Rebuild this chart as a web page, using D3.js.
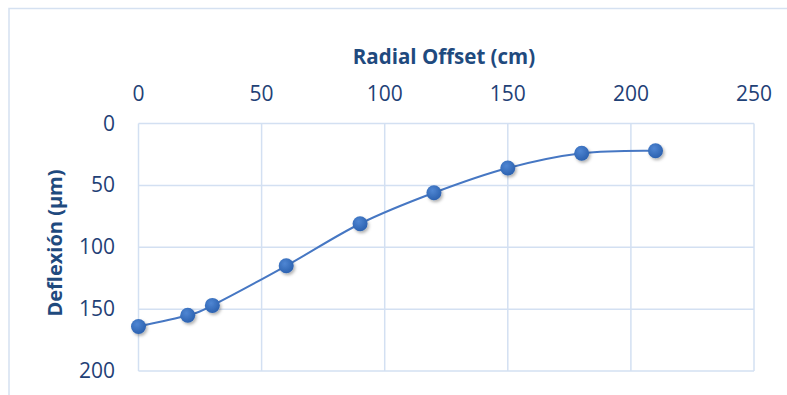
<!DOCTYPE html>
<html>
<head>
<meta charset="utf-8">
<script src="https://cdn.jsdelivr.net/npm/d3@7"></script>
<style>
  body { margin: 0; background: #fff; }
  text { font-family: "Open Sans", "Liberation Sans", sans-serif; }
</style>
</head>
<body>
<svg id="chart" width="787" height="395"></svg>
<script>
// radial offset (cm) and deflection (µm)
var offsets = [0, 20, 30, 60, 90, 120, 150, 180, 210];
var deflex  = [164, 155, 147, 115, 81, 56, 36, 24, 22];
var xTicks = [0, 50, 100, 150, 200, 250];
var yTicks = [0, 50, 100, 150, 200];

window.addEventListener( "load", makeChart );
function makeChart() {
    var svg = d3.select( "#chart" );
    var pts = offsets.map( (d,i) => ({ x: d, y: deflex[i] }) );

    var left = 138.5, right = 754, top = 123.5, bottom = 371;
    var sx = d3.scaleLinear().domain( [0, 250] ).range( [left, right] );
    var sy = d3.scaleLinear().domain( [0, 200] ).range( [top, bottom] );

    // outer chart-area border
    svg.append( "rect" ).attr( "x", 9 ).attr( "y", 8.5 )
        .attr( "width", 790 ).attr( "height", 400 )
        .attr( "fill", "none" ).attr( "stroke", "#D5E1F1" ).attr( "stroke-width", 1.5 );

    var defs = svg.append( "defs" );
    var gr = defs.append( "radialGradient" ).attr( "id", "dot" )
        .attr( "cx", "40%" ).attr( "cy", "35%" ).attr( "r", "65%" );
    gr.append( "stop" ).attr( "offset", "0%" ).attr( "stop-color", "#4F86D3" );
    gr.append( "stop" ).attr( "offset", "100%" ).attr( "stop-color", "#2C62B0" );
    var f = defs.append( "filter" ).attr( "id", "shadow" )
        .attr( "x", "-50%" ).attr( "y", "-50%" ).attr( "width", "200%" ).attr( "height", "200%" );
    f.append( "feDropShadow" ).attr( "dx", 1.5 ).attr( "dy", 2 )
        .attr( "stdDeviation", 1.5 ).attr( "flood-color", "#000" ).attr( "flood-opacity", 0.3 );

    // gridlines
    svg.append( "g" ).selectAll( "line" ).data( xTicks ).enter()
        .append( "line" )
        .attr( "x1", d=>sx(d) ).attr( "x2", d=>sx(d) )
        .attr( "y1", top ).attr( "y2", bottom )
        .attr( "stroke", "#D3E0F2" ).attr( "stroke-width", 1.5 );
    svg.append( "g" ).selectAll( "line" ).data( yTicks ).enter()
        .append( "line" )
        .attr( "x1", left ).attr( "x2", right )
        .attr( "y1", d=>sy(d) ).attr( "y2", d=>sy(d) )
        .attr( "stroke", "#D3E0F2" ).attr( "stroke-width", 1.5 );

    // tick labels
    svg.append( "g" ).selectAll( "text" ).data( xTicks ).enter()
        .append( "text" )
        .attr( "x", d=>sx(d) ).attr( "y", 101 )
        .attr( "text-anchor", "middle" ).attr( "font-size", 21 )
        .attr( "fill", "#1F4176" ).text( d=>d );
    svg.append( "g" ).selectAll( "text" ).data( yTicks ).enter()
        .append( "text" )
        .attr( "x", 115 ).attr( "y", d=>sy(d) + 7 )
        .attr( "text-anchor", "end" ).attr( "font-size", 21 )
        .attr( "fill", "#1F4176" ).text( d=>d );

    // axis titles
    svg.append( "text" ).attr( "x", 444 ).attr( "y", 64 )
        .attr( "text-anchor", "middle" ).attr( "font-size", 20.5 ).attr( "font-weight", "bold" )
        .attr( "fill", "#1F4A7E" ).text( "Radial Offset (cm)" );
    svg.append( "text" )
        .attr( "transform", "translate(62,243) rotate(-90)" )
        .attr( "text-anchor", "middle" ).attr( "font-size", 20 ).attr( "font-weight", "bold" )
        .attr( "fill", "#1F4A7E" ).text( "Deflexión (µm)" );

    // smoothed line
    var line = d3.line().x( d=>sx(d.x) ).y( d=>sy(d.y) ).curve( d3.curveCardinal.tension(0) );
    svg.append( "path" ).attr( "d", line(pts) )
        .attr( "fill", "none" ).attr( "stroke", "#4677C3" ).attr( "stroke-width", 2 );

    svg.append( "g" ).selectAll( "circle" ).data( pts ).enter()
        .append( "circle" ).attr( "r", 7.5 )
        .attr( "cx", d=>sx(d.x) ).attr( "cy", d=>sy(d.y) )
        .attr( "fill", "url(#dot)" ).attr( "filter", "url(#shadow)" );
}
</script>
</body>
</html>
